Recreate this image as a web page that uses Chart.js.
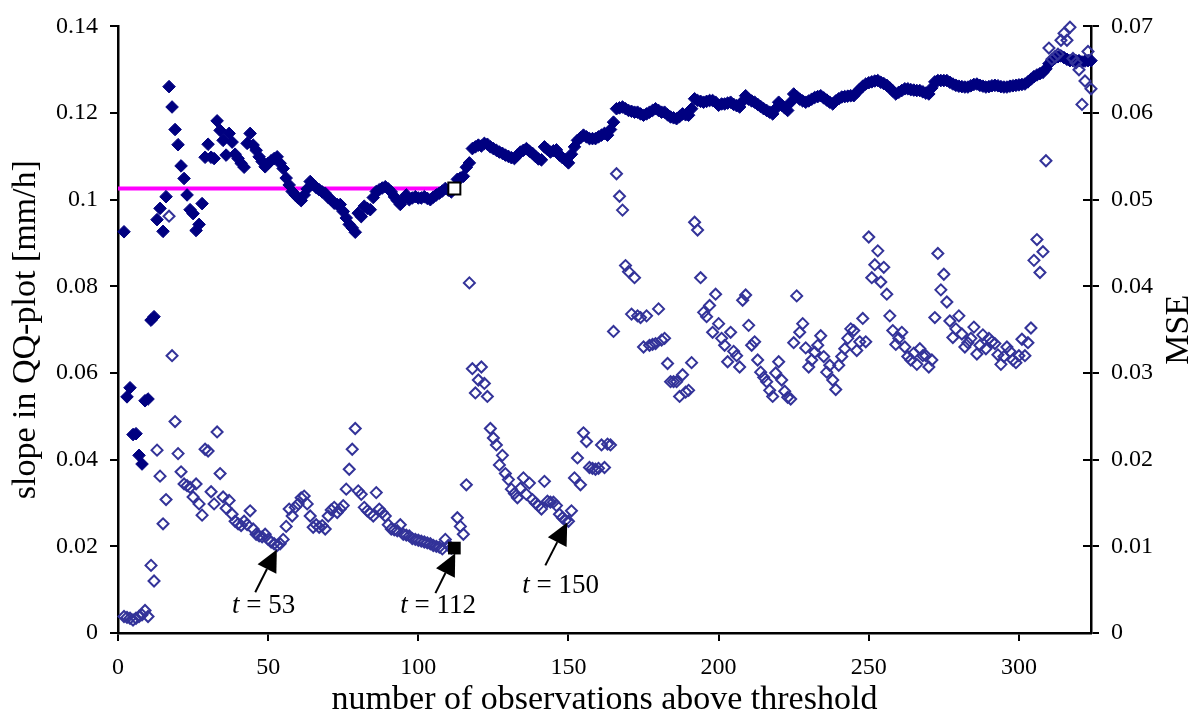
<!DOCTYPE html>
<html>
<head>
<meta charset="utf-8">
<script src="https://cdn.jsdelivr.net/npm/chart.js@4"></script>
<style>
  body { margin: 0; background: #fff; }
  canvas { display: block; }
</style>
</head>
<body>
<canvas id="chart" width="1204" height="717"></canvas>
<script>
// ===========================
// DATA
// ===========================

// first number of observations shown, each array runs 2..324
const firstObs = 2;

// slope in QQ-plot [mm/h] (left axis), t = 112 is drawn as the white square
const slope = [
  0.0926, 0.0545, 0.0566, 0.0458, 0.046, 0.041, 0.039, 0.0536, 0.054, 0.0722,
  0.073, 0.0954, 0.098, 0.0927, 0.1007, 0.1261, 0.1214, 0.1162, 0.1127, 0.1078,
  0.1049, 0.1011, 0.0977, 0.0968, 0.0929, 0.0943, 0.0991, 0.1098, 0.1128, 0.1098,
  0.1095, 0.1182, 0.116, 0.1137, 0.1103, 0.1153, 0.1133, 0.1105, 0.1095, 0.1084,
  0.1075, 0.113, 0.1153, 0.1126, 0.1114, 0.1099, 0.1088, 0.1076, 0.1084, 0.109,
  0.1095, 0.1099, 0.1084, 0.1072, 0.105, 0.1034, 0.1019, 0.1011, 0.1004, 0.0998,
  0.1011, 0.1025, 0.1042, 0.1035, 0.1028, 0.1023, 0.1018, 0.1015, 0.1005, 0.1,
  0.0992, 0.0989, 0.0989, 0.0973, 0.0958, 0.0943, 0.0935, 0.0925, 0.0969, 0.0961,
  0.0985, 0.098, 0.0977, 0.1005, 0.1019, 0.1023, 0.1027, 0.103, 0.1025, 0.1018,
  0.1007, 0.0998, 0.0989, 0.1, 0.1011, 0.1, 0.1004, 0.1007, 0.1004, 0.1004,
  0.1007, 0.1003, 0.1, 0.1006, 0.1011, 0.1015, 0.102, 0.1026, 0.1022, 0.1018,
  null, 0.1047, 0.105, 0.1054, 0.1075, 0.1085, 0.1118, 0.1122, 0.1126, 0.1124,
  0.113, 0.1128, 0.1122, 0.1118, 0.1114, 0.111, 0.1107, 0.1103, 0.11, 0.1097,
  0.1095, 0.1103, 0.111, 0.1114, 0.1118, 0.1112, 0.1107, 0.11, 0.1094, 0.1092,
  0.1122, 0.1116, 0.111, 0.1113, 0.1115, 0.1103, 0.1097, 0.1092, 0.1085, 0.1105,
  0.1122, 0.1137, 0.1143, 0.1149, 0.1145, 0.1141, 0.1141, 0.1141, 0.1145, 0.1149,
  0.1153, 0.1149, 0.1162, 0.1179, 0.121, 0.1212, 0.1214, 0.121, 0.1206, 0.1204,
  0.1202, 0.1202, 0.1198, 0.1195, 0.1198, 0.1202, 0.1206, 0.121, 0.1206, 0.1202,
  0.1202, 0.1196, 0.1191, 0.1189, 0.1187, 0.1192, 0.1198, 0.1196, 0.1195, 0.121,
  0.1233, 0.1229, 0.1227, 0.1225, 0.1227, 0.1229, 0.1229, 0.1225, 0.1218, 0.1221,
  0.1221, 0.1223, 0.1225, 0.122, 0.1217, 0.1214, 0.1227, 0.124, 0.1232, 0.1228,
  0.1225, 0.122, 0.1215, 0.121, 0.1206, 0.1202, 0.1198, 0.121, 0.1225, 0.1218,
  0.1212, 0.1206, 0.1225, 0.1244, 0.1238, 0.1232, 0.1228, 0.1225, 0.1228, 0.1232,
  0.1236, 0.1238, 0.124, 0.1235, 0.123, 0.1225, 0.1221, 0.1228, 0.1233, 0.1237,
  0.1238, 0.1239, 0.124, 0.124, 0.1248, 0.1255, 0.1262, 0.1267, 0.127, 0.1272,
  0.1274, 0.1275, 0.1271, 0.1268, 0.1264, 0.1258, 0.1251, 0.1244, 0.1248, 0.1252,
  0.1256, 0.1256, 0.1254, 0.1253, 0.1252, 0.1252, 0.1249, 0.1246, 0.1244, 0.1258,
  0.1272, 0.1275, 0.1275, 0.1275, 0.1275, 0.1271, 0.1267, 0.1264, 0.1262, 0.1261,
  0.126, 0.126, 0.1263, 0.1266, 0.1267, 0.1264, 0.1262, 0.126, 0.1261, 0.1263,
  0.1264, 0.1263, 0.1261, 0.126, 0.126, 0.1262, 0.1263, 0.1264, 0.1265, 0.1266,
  0.1267, 0.1272, 0.1278, 0.1284, 0.1288, 0.1291, 0.1294, 0.1302, 0.1314, 0.1322,
  0.1327, 0.133, 0.1332, 0.1328, 0.1324, 0.1321, 0.1321, 0.1321, 0.1321, 0.1318,
  0.132, 0.1321, 0.1321
];

// MSE (right axis), t = 112 is drawn as the black square
const mse = [
  0.0019, 0.0018, 0.0017, 0.0015, 0.0017, 0.0019, 0.0021, 0.0026, 0.0019, 0.0078,
  0.006, 0.0211, 0.0181, 0.0126, 0.0154, 0.0481, 0.032, 0.0244, 0.0207, 0.0186,
  0.0172, 0.017, 0.0168, 0.0157, 0.0172, 0.0149, 0.0136, 0.0212, 0.021, 0.0163,
  0.0149, 0.0232, 0.0184, 0.0157, 0.0144, 0.0153, 0.0137, 0.0129, 0.0126, 0.0124,
  0.0129, 0.0125, 0.0141, 0.012, 0.0114, 0.0112, 0.0111, 0.0114, 0.0108, 0.0105,
  0.0103, 0.0101, 0.0103, 0.0108, 0.0123, 0.0143, 0.0135, 0.0145, 0.0149, 0.0156,
  0.0158, 0.0149, 0.0135, 0.0122, 0.0125, 0.0122, 0.0124, 0.012, 0.0135, 0.0142,
  0.0145, 0.0139, 0.0143, 0.0147, 0.0166, 0.0189, 0.0212, 0.0236, 0.0164, 0.016,
  0.0145, 0.0141, 0.0138, 0.0135, 0.0162, 0.0143, 0.0139, 0.0135, 0.0125, 0.012,
  0.0119, 0.0118, 0.0125, 0.0114, 0.0113, 0.0112, 0.0109, 0.0108, 0.0107, 0.0106,
  0.0105, 0.0104, 0.0103, 0.0101, 0.01, 0.0099, 0.0097, 0.0108, 0.0101, 0.0098,
  null, 0.0133, 0.0123, 0.0114, 0.0171, 0.0404, 0.0305, 0.0277, 0.0292, 0.0307,
  0.0288, 0.0273, 0.0236, 0.0225, 0.0217, 0.0194, 0.0205, 0.0184, 0.0177, 0.0166,
  0.0161, 0.0156, 0.0167, 0.0179, 0.016, 0.0173, 0.0154, 0.015, 0.0147, 0.0143,
  0.0175, 0.0152, 0.0151, 0.0151, 0.0147, 0.0137, 0.0133, 0.013, 0.0129, 0.0141,
  0.0179, 0.0202, 0.0171, 0.0231, 0.0221, 0.0191, 0.019, 0.0189, 0.019, 0.0217,
  0.0191, 0.0218, 0.0217, 0.0348, 0.053, 0.0504, 0.0488, 0.0424, 0.0417, 0.0368,
  0.041, 0.0366, 0.0364, 0.033, 0.0366, 0.0332, 0.0333, 0.0334, 0.0374, 0.0338,
  0.034, 0.0311, 0.029, 0.029, 0.029, 0.0273, 0.0298, 0.0278, 0.028, 0.0312,
  0.0474, 0.0465, 0.041, 0.037, 0.0365, 0.0378, 0.0347, 0.0391, 0.0357, 0.034,
  0.0332, 0.0313, 0.0347, 0.0325, 0.032, 0.0307, 0.0384, 0.039, 0.0355, 0.0332,
  0.0336, 0.0315, 0.0301, 0.0295, 0.029, 0.028, 0.0273, 0.03, 0.0313, 0.0292,
  0.0279, 0.0272, 0.027, 0.0335, 0.0389, 0.0347, 0.0357, 0.0329, 0.0307, 0.0315,
  0.0324, 0.0332, 0.0343, 0.0319, 0.0301, 0.0309, 0.0292, 0.0281, 0.0309, 0.0319,
  0.0328, 0.034, 0.0351, 0.0349, 0.0326, 0.0336, 0.0363, 0.0336, 0.0457, 0.041,
  0.0425, 0.0441, 0.0405, 0.0422, 0.0391, 0.0366, 0.0349, 0.0333, 0.034, 0.0347,
  0.033, 0.0319, 0.0315, 0.0323, 0.031, 0.0328, 0.032, 0.032, 0.0307, 0.0315,
  0.0364, 0.0438, 0.0396, 0.0414, 0.0382, 0.036, 0.0341, 0.0351, 0.0366, 0.0345,
  0.033, 0.0335, 0.034, 0.0353, 0.0322, 0.0332, 0.0344, 0.0328, 0.034, 0.0336,
  0.0334, 0.0321, 0.031, 0.0319, 0.033, 0.0325, 0.0315, 0.0312, 0.032, 0.0339,
  0.032, 0.0335, 0.0352, 0.043, 0.0454, 0.0416, 0.044, 0.0545, 0.0675, 0.0662,
  0.0665, 0.0668, 0.0684, 0.0692, 0.0684, 0.0699, 0.0663, 0.0658, 0.065, 0.061,
  0.0637, 0.0671, 0.0628
];

// chosen threshold
const chosenT = 112;
const chosenSlope = 0.1026;
const chosenMse = 0.0098;

// axis ticks
const xTicks = [0, 50, 100, 150, 200, 250, 300];
const slopeTicks = [0, 0.02, 0.04, 0.06, 0.08, 0.1, 0.12, 0.14];
const mseTicks = [0, 0.01, 0.02, 0.03, 0.04, 0.05, 0.06, 0.07];

// arrows: t, tail [obs, slope], tip [obs, slope], text start [obs, slope]
const arrows = [
  { t: 53,  tail: [45.7, 0.0094], tip: [52.9, 0.0193], text: [38, 0.0046] },
  { t: 112, tail: [105.7, 0.0092], tip: [112.3, 0.0184], text: [94, 0.0046] },
  { t: 150, tail: [142.3, 0.0156], tip: [149.6, 0.0255], text: [134.6, 0.0092] }
];

const serif = '"Liberation Serif", "Times New Roman", serif';

const slopePoints = slope.map((v, i) => ({ x: firstObs + i, y: v }));
const msePoints = mse.map((v, i) => ({ x: firstObs + i, y: v }));

// ===========================
// EXTRAS (arrows, MSE title, inner ticks)
// ===========================
const extras = {
  id: "extras",
  afterDraw(chart) {
    const ctx = chart.ctx;
    const x = chart.scales.x;
    const y = chart.scales.y;
    const y2 = chart.scales.y2;
    const area = chart.chartArea;

    ctx.save();

    // right axis ticks cross the axis line
    ctx.strokeStyle = "#000";
    ctx.lineWidth = 2;
    y2.ticks.forEach(t => {
      const py = Math.round(y2.getPixelForValue(t.value));
      ctx.beginPath();
      ctx.moveTo(area.right - 8, py);
      ctx.lineTo(area.right, py);
      ctx.stroke();
    });

    // arrows
    ctx.fillStyle = "#000";
    arrows.forEach(a => {
      const x0 = x.getPixelForValue(a.tail[0]);
      const y0 = y.getPixelForValue(a.tail[1]);
      const x1 = x.getPixelForValue(a.tip[0]);
      const y1 = y.getPixelForValue(a.tip[1]);
      const ang = Math.atan2(y1 - y0, x1 - x0);
      const headLen = 22;
      const headW = 10.5;
      const bx = x1 - Math.cos(ang) * headLen;
      const by = y1 - Math.sin(ang) * headLen;

      ctx.beginPath();
      ctx.moveTo(x0, y0);
      ctx.lineTo(bx, by);
      ctx.stroke();

      ctx.beginPath();
      ctx.moveTo(x1, y1);
      ctx.lineTo(bx + Math.sin(ang) * headW, by - Math.cos(ang) * headW);
      ctx.lineTo(bx - Math.sin(ang) * headW, by + Math.cos(ang) * headW);
      ctx.closePath();
      ctx.fill();

      // label "t = ..."
      const tx = x.getPixelForValue(a.text[0]);
      const ty = y.getPixelForValue(a.text[1]);
      ctx.textBaseline = "alphabetic";
      ctx.textAlign = "left";
      ctx.font = "italic 27px " + serif;
      ctx.fillText("t", tx, ty);
      const w = ctx.measureText("t").width;
      ctx.font = "27px " + serif;
      ctx.fillText(" = " + a.t, tx + w, ty);
    });

    // right axis title, reading upwards
    ctx.translate(1179, (area.top + area.bottom) / 2);
    ctx.rotate(-Math.PI / 2);
    ctx.font = "34px " + serif;
    ctx.textAlign = "center";
    ctx.textBaseline = "middle";
    ctx.fillText("MSE", 0, 0);

    ctx.restore();
  }
};

// ===========================
// CHART
// ===========================
new Chart(document.getElementById("chart"), {

  type: "scatter",

  data: {

    datasets: [
      {
        label: "MSE at t = 112",
        data: [{ x: chosenT, y: chosenMse }],
        yAxisID: "y2",
        pointStyle: "rect",
        pointRadius: 9,
        backgroundColor: "#000",
        borderColor: "#000",
        borderWidth: 0,
        order: 0,
        clip: false
      },
      {
        label: "slope at t = 112",
        data: [{ x: chosenT, y: chosenSlope }],
        yAxisID: "y",
        pointStyle: "rect",
        pointRadius: 8.5,
        backgroundColor: "#fff",
        borderColor: "#000",
        borderWidth: 2,
        order: 1,
        clip: false
      },
      {
        label: "MSE",
        data: msePoints,
        yAxisID: "y2",
        pointStyle: "rectRot",
        pointRadius: 5.5,
        backgroundColor: "rgba(0,0,0,0)",
        borderColor: "#333399",
        borderWidth: 2,
        order: 2,
        clip: false
      },
      {
        label: "slope",
        data: slopePoints,
        yAxisID: "y",
        pointStyle: "rectRot",
        pointRadius: 6.3,
        backgroundColor: "#000080",
        borderColor: "#000080",
        borderWidth: 1,
        order: 3,
        clip: false
      },
      {
        label: "chosen slope",
        type: "line",
        data: [{ x: 0, y: chosenSlope }, { x: chosenT, y: chosenSlope }],
        yAxisID: "y",
        borderColor: "#FF00FF",
        borderWidth: 4,
        pointRadius: 0,
        order: 4
      }
    ]

  },

  options: {

    responsive: false,
    animation: false,
    devicePixelRatio: 1,

    layout: {
      padding: { top: 22, left: 0, right: 0, bottom: 0 }
    },

    plugins: {
      legend: { display: false },
      tooltip: { enabled: false }
    },

    scales: {

      x: {
        type: "linear",
        min: 0,
        max: 324,
        afterFit: s => { s.height = 84; },
        afterBuildTicks: s => { s.ticks = xTicks.map(v => ({ value: v })); },
        ticks: {
          font: { family: serif, size: 24 },
          color: "#000",
          padding: 12,
          maxRotation: 0
        },
        grid: {
          drawOnChartArea: false,
          drawTicks: true,
          tickLength: 8,
          color: "#000",
          lineWidth: 2
        },
        border: { display: true, color: "#000", width: 2.5 },
        title: {
          display: true,
          text: "number of observations above threshold",
          font: { family: serif, size: 34, lineHeight: 1 },
          color: "#000",
          padding: { top: 0, bottom: 0 }
        }
      },

      y: {
        position: "left",
        min: 0,
        max: 0.14,
        afterFit: s => { s.width = 118; },
        afterBuildTicks: s => { s.ticks = slopeTicks.map(v => ({ value: v })); },
        ticks: {
          font: { family: serif, size: 24 },
          color: "#000",
          padding: 12,
          callback: v => String(+v.toFixed(2))
        },
        grid: {
          drawOnChartArea: false,
          drawTicks: true,
          tickLength: 8,
          color: "#000",
          lineWidth: 2
        },
        border: { display: true, color: "#000", width: 2.5 },
        title: {
          display: true,
          text: "slope in QQ-plot [mm/h]",
          font: { family: serif, size: 34, lineHeight: 1 },
          color: "#000",
          padding: { top: 9, bottom: 0 }
        }
      },

      y2: {
        position: "right",
        min: 0,
        max: 0.07,
        afterFit: s => { s.width = 113; },
        afterBuildTicks: s => { s.ticks = mseTicks.map(v => ({ value: v })); },
        ticks: {
          font: { family: serif, size: 24 },
          color: "#000",
          padding: 12,
          callback: v => String(+v.toFixed(2))
        },
        grid: {
          drawOnChartArea: false,
          drawTicks: true,
          tickLength: 8,
          color: "#000",
          lineWidth: 2
        },
        border: { display: true, color: "#000", width: 2.5 }
      }

    }

  },

  plugins: [extras]

});
</script>
</body>
</html>
